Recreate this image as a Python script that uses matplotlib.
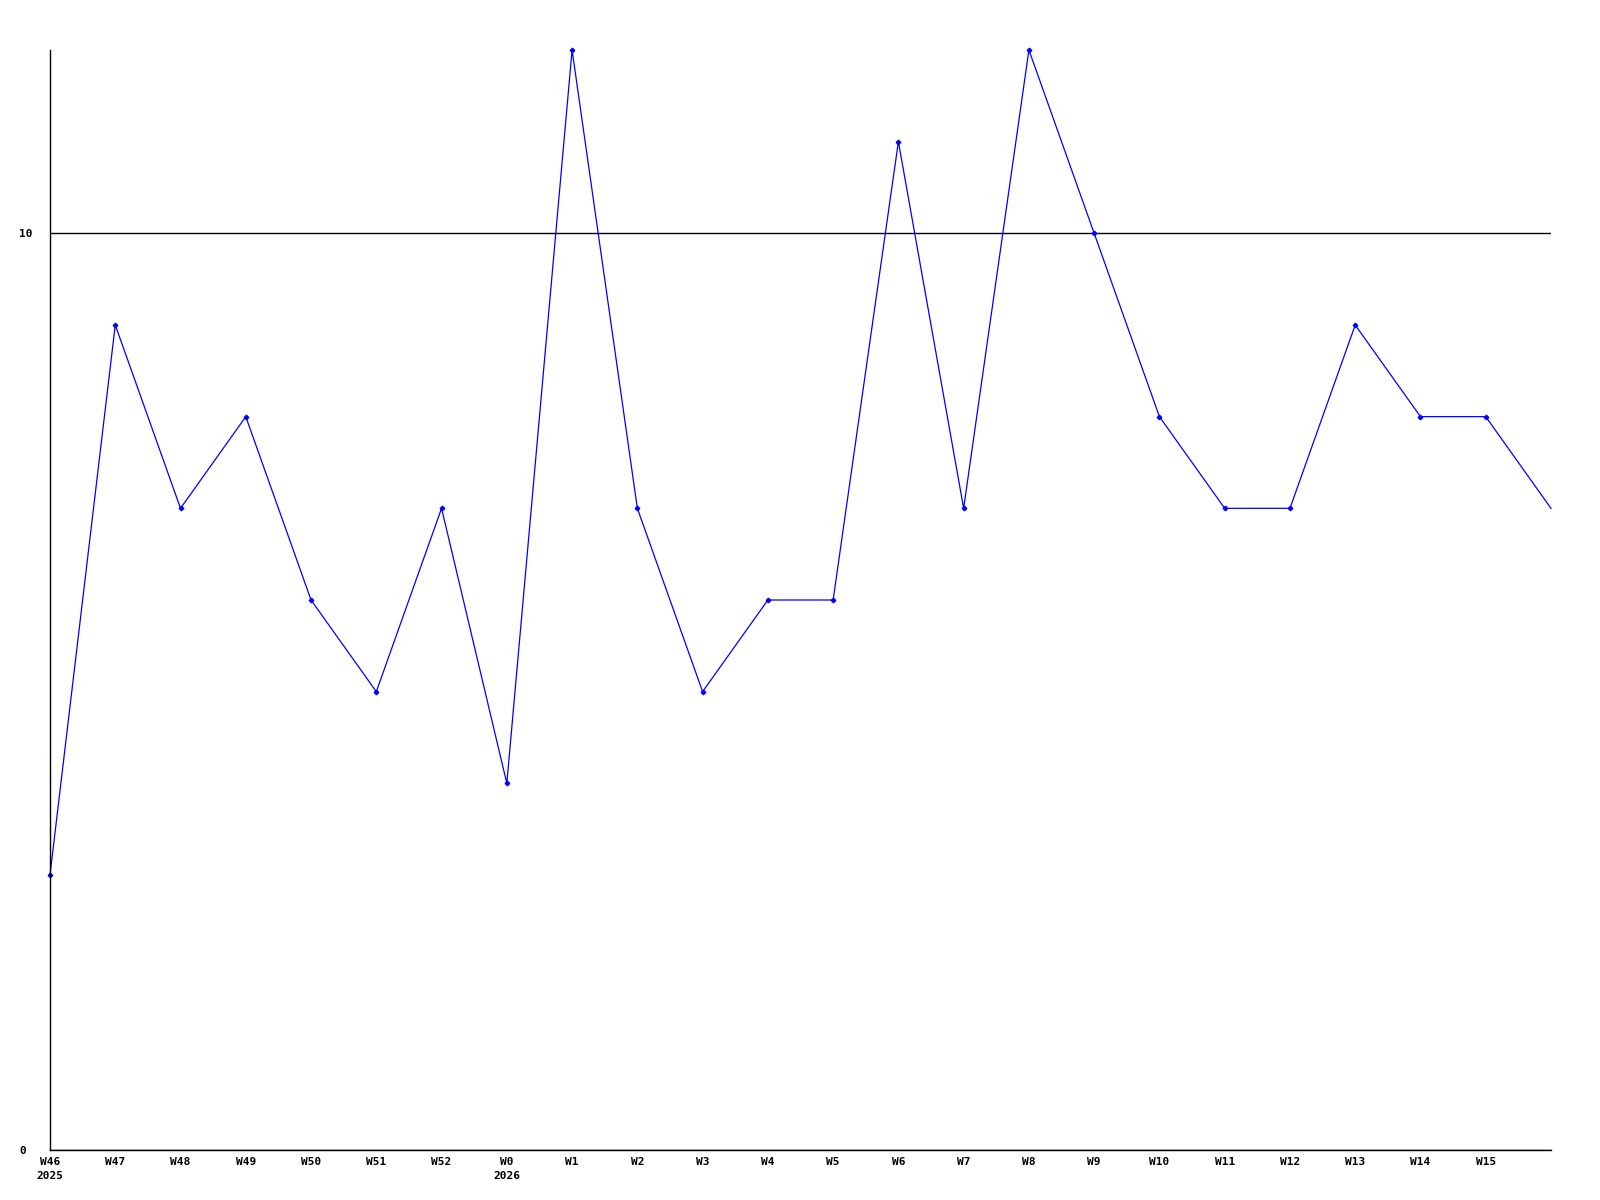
import matplotlib
matplotlib.use('Agg')
import matplotlib.pyplot as plt

# week labels (year printed below the first week of each year)
weeks = ['W46', 'W47', 'W48', 'W49', 'W50', 'W51', 'W52',
         'W0', 'W1', 'W2', 'W3', 'W4', 'W5', 'W6', 'W7', 'W8',
         'W9', 'W10', 'W11', 'W12', 'W13', 'W14', 'W15']
years = {'W46': '2025', 'W0': '2026'}

# values per week; the last point sits on the right edge without a label
values = [3, 9, 7, 8, 6, 5, 7, 4, 12, 7, 5, 6, 6, 11, 7, 12,
          10, 8, 7, 7, 9, 8, 8, 7]

fig = plt.figure(figsize=(16, 12), dpi=100)
ax = fig.add_axes([50 / 1600, 50 / 1200, 1501 / 1600, 1100 / 1200])

x = list(range(len(values)))
ax.plot(x, values, color='#0000ff', linewidth=0.9, marker='D', markersize=2.3,
        markevery=list(range(len(values) - 1)), clip_on=False)

ax.set_xlim(0, len(values) - 1)
ax.set_ylim(0, 12)

ticklabels = [w + ('\n' + years[w] if w in years else '') for w in weeks]
ax.set_xticks(range(len(weeks)))
ax.set_xticklabels(ticklabels, fontfamily='DejaVu Sans Mono',
                   fontweight='bold', fontsize=8, va='top', ha='center',
                   linespacing=1.55)
ax.set_yticks([0, 10])
ax.set_yticklabels(['0', '10'], fontfamily='DejaVu Sans Mono',
                   fontweight='bold', fontsize=8)
for lab in ax.get_yticklabels():
    lab.set_horizontalalignment('left')
ax.tick_params(axis='y', length=0, pad=22)
ax.tick_params(axis='x', length=0, pad=5)

ax.yaxis.grid(True, color='black', linewidth=1)
ax.set_axisbelow(True)

ax.spines['top'].set_visible(False)
ax.spines['right'].set_visible(False)
ax.spines['left'].set_linewidth(1)
ax.spines['bottom'].set_linewidth(1)

fig.savefig('out.png', dpi=100)
